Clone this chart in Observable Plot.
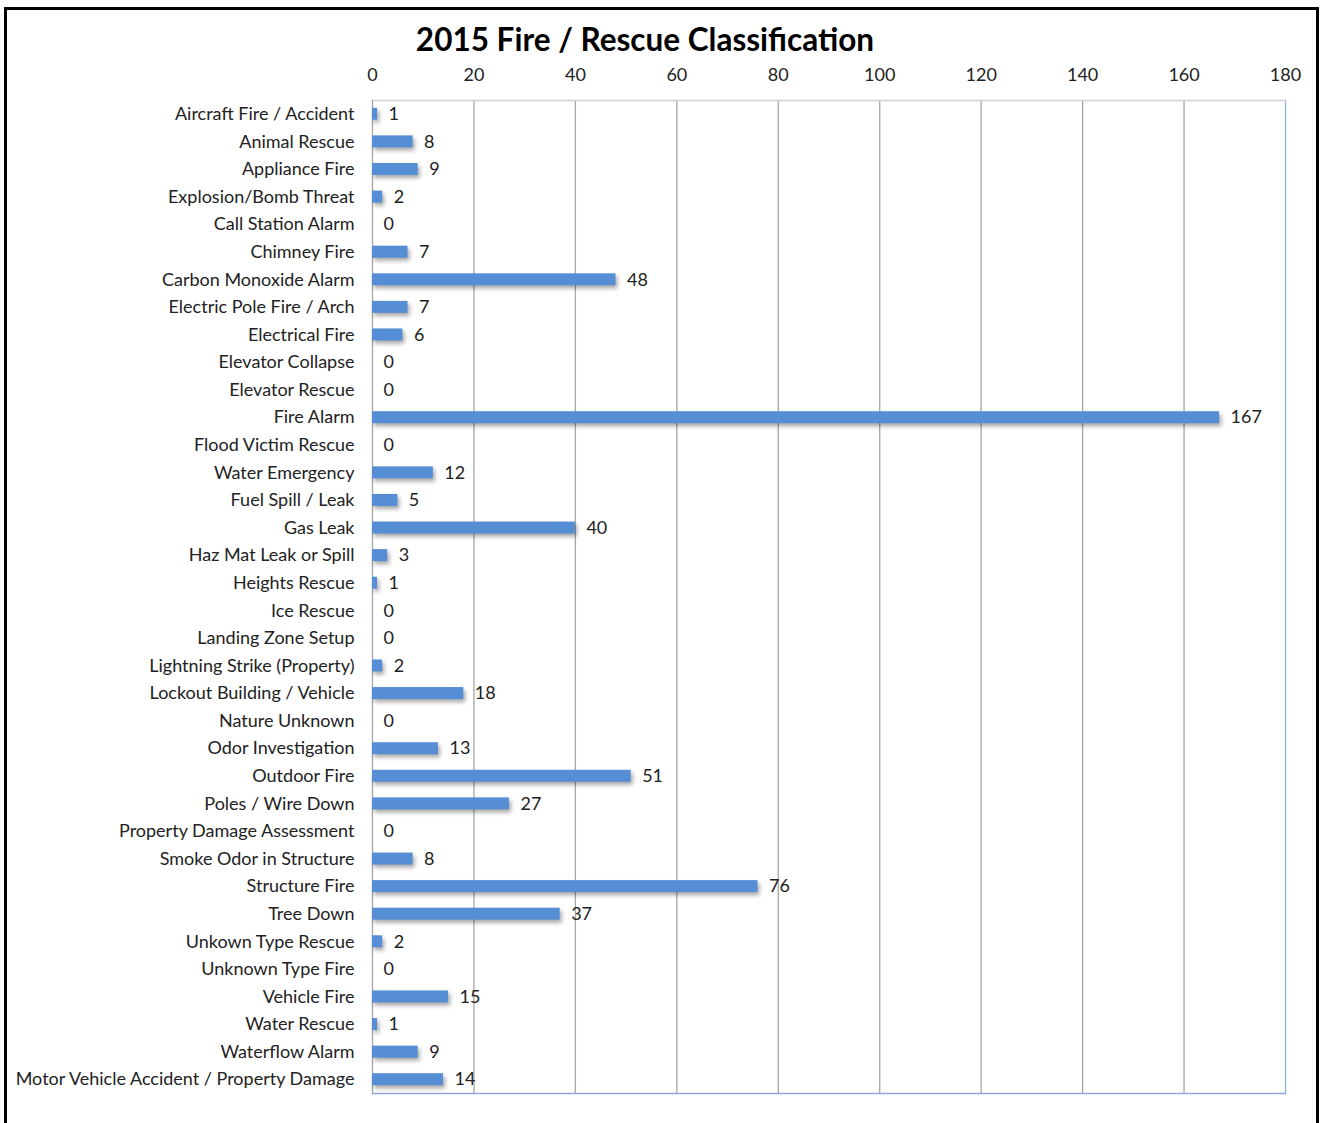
<!DOCTYPE html>
<html>
<head>
<meta charset="utf-8">
<script src="https://cdn.jsdelivr.net/npm/d3@7"></script>
<script src="https://cdn.jsdelivr.net/npm/@observablehq/plot@0.6"></script>
<style>
  body { margin: 0; background: #fff; }
  #wrap { position: relative; width: 1320px; height: 1123px; overflow: hidden; font-family: Lato, "Open Sans", sans-serif; background: #fff; }
  #border { position: absolute; left: 4px; top: 7px; width: 1309px; height: 1130px; border: 3px solid #000; z-index: 5; pointer-events: none; }
  #title { position: absolute; left: 0; width: 1290px; top: 20px; text-align: center; font-size: 31.5px; font-weight: bold; color: #000; }
  #chart { position: absolute; left: 0; top: 60px; }
</style>
</head>
<body>
<div id="wrap">
  <div id="chart"></div>
  <div id="title">2015 Fire / Rescue Classification</div>
  <div id="border"></div>
</div>
<script>
const categories = [
  "Aircraft Fire / Accident", "Animal Rescue", "Appliance Fire", "Explosion/Bomb Threat",
  "Call Station Alarm", "Chimney Fire", "Carbon Monoxide Alarm", "Electric Pole Fire / Arch",
  "Electrical Fire", "Elevator Collapse", "Elevator Rescue", "Fire Alarm",
  "Flood Victim Rescue", "Water Emergency", "Fuel Spill / Leak", "Gas Leak",
  "Haz Mat Leak or Spill", "Heights Rescue", "Ice Rescue", "Landing Zone Setup",
  "Lightning Strike (Property)", "Lockout Building / Vehicle", "Nature Unknown", "Odor Investigation",
  "Outdoor Fire", "Poles / Wire Down", "Property Damage Assessment", "Smoke Odor in Structure",
  "Structure Fire", "Tree Down", "Unkown Type Rescue", "Unknown Type Fire",
  "Vehicle Fire", "Water Rescue", "Waterflow Alarm", "Motor Vehicle Accident / Property Damage"
];
const counts = [
  1, 8, 9, 2,
  0, 7, 48, 7,
  6, 0, 0, 167,
  0, 12, 5, 40,
  3, 1, 0, 0,
  2, 18, 0, 13,
  51, 27, 0, 8,
  76, 37, 2, 0,
  15, 1, 9, 14
];
const xTicks = [0, 20, 40, 60, 80, 100, 120, 140, 160, 180];

const data = categories.map((c, i) => ({category: c, count: counts[i]}));

const chart = Plot.plot({
  width: 1320,
  height: 1063,
  marginTop: 40,
  marginBottom: 30,
  marginLeft: 372,
  marginRight: 35,
  style: {fontFamily: "Lato, 'Open Sans', sans-serif", fontSize: "18px", color: "#333", background: "transparent"},
  x: {domain: [0, 180], ticks: xTicks, label: null},
  y: {domain: categories, label: null, padding: 0, round: false},
  marks: [
    Plot.ruleX(xTicks.slice(1, -1), {stroke: "#a6a6a6", strokeWidth: 1.3}),
    Plot.frame({anchor: "right", stroke: "#8eaadb", strokeWidth: 1.3}),
    Plot.frame({anchor: "bottom", stroke: "#8eaadb", strokeWidth: 1.3}),
    Plot.frame({anchor: "top", stroke: "#d0d0d0", strokeWidth: 1.3}),
    Plot.frame({anchor: "left", stroke: "#a6a6a6", strokeWidth: 1.3}),
    Plot.barX(data, {x: "count", y: "category", fill: "#558ed5", insetTop: 7.8, insetBottom: 7.8}),
    Plot.text(data, {x: "count", y: "category", text: d => String(d.count), textAnchor: "start", dx: 11, fill: "#222", fontSize: 18}),
    Plot.axisX({anchor: "top", ticks: xTicks, tickSize: 0, tickPadding: 20, fontSize: 18, fill: "#222"}),
    Plot.axisY({anchor: "left", tickSize: 0, tickPadding: 18, fontSize: 18, fill: "#222"})
  ]
});
d3.select(chart).selectAll("g[aria-label='bar'] rect").style("filter", "drop-shadow(2px 3px 2px rgba(0,0,0,0.35))");
document.getElementById("chart").appendChild(chart);
</script>
</body>
</html>
